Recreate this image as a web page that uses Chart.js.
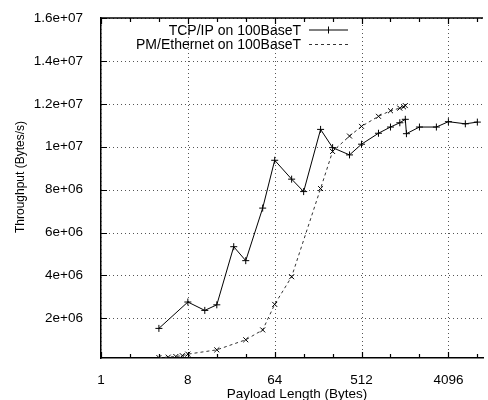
<!DOCTYPE html>
<html>
<head>
<meta charset="utf-8">
<script src="https://cdn.jsdelivr.net/npm/chart.js@4"></script>
<style>
  body { margin: 0; background: #fff; }
</style>
</head>
<body>
<canvas id="myChart" width="488" height="400"></canvas>
<script>
// payload sizes (bytes) and measured throughput (bytes/s)
const tcpSize = [4, 8, 12, 16, 24, 32, 48, 64, 96, 128, 192, 256, 384, 512, 768, 1024, 1280, 1460, 1500, 2048, 3072, 4096, 6144, 8192];
const tcpThroughput = [1.53e6, 2.76e6, 2.37e6, 2.63e6, 5.34e6, 4.69e6, 7.14e6, 9.37e6, 8.49e6, 7.91e6, 10.81e6, 9.96e6, 9.62e6, 10.12e6, 10.63e6, 10.92e6, 11.12e6, 11.28e6, 10.61e6, 10.92e6, 10.92e6, 11.17e6, 11.07e6, 11.15e6];

const pmSize = [4, 5, 6, 7, 8, 16, 32, 48, 64, 96, 192, 256, 384, 512, 768, 1024, 1280, 1400, 1460];
const pmThroughput = [1.7e5, 1.9e5, 2.2e5, 2.6e5, 3.3e5, 5.3e5, 1.0e6, 1.46e6, 2.65e6, 3.94e6, 8.05e6, 9.78e6, 10.5e6, 10.95e6, 11.42e6, 11.68e6, 11.8e6, 11.86e6, 11.92e6];

const seriesNames = ["TCP/IP on 100BaseT", "PM/Ethernet on 100BaseT"];

// ticks
const xTicks = [1, 2, 4, 8, 16, 32, 64, 128, 256, 512, 1024, 2048, 4096, 8192];
const xLabels = [1, 8, 64, 512, 4096];
const yTicks = [2e6, 4e6, 6e6, 8e6, 10e6, 12e6, 14e6, 16e6];

const FONT = "'Liberation Sans', Arial, sans-serif";
Chart.defaults.font.family = FONT;
Chart.defaults.color = "#000";

// gnuplot style: 2e+06, 1.6e+07
function gnuFmt(v) {
  const [m, e] = v.toExponential().split("e");
  return m + "e" + e[0] + e.slice(1).padStart(2, "0");
}

const toPoints = (xs, ys) => xs.map((x, i) => ({ x: x, y: ys[i] }));

// dotted grid, top border, inward ticks, legend and axis titles like gnuplot
const gnuplotFrame = {
  id: "gnuplotFrame",
  beforeDatasetsDraw(chart) {
    const c = chart.ctx;
    const a = chart.chartArea;
    const xs = chart.scales.x;
    const ys = chart.scales.y;
    c.save();
    c.strokeStyle = "#555";
    c.lineWidth = 1;
    c.setLineDash([1, 3]);
    c.beginPath();
    xLabels.forEach(t => {
      const px = Math.round(xs.getPixelForValue(t)) + 0.5;
      c.moveTo(px, a.bottom);
      c.lineTo(px, a.top);
    });
    yTicks.forEach(t => {
      const py = Math.round(ys.getPixelForValue(t)) + 0.5;
      c.moveTo(a.left, py);
      c.lineTo(a.right, py);
    });
    c.stroke();
    c.restore();
  },
  afterDraw(chart) {
    const c = chart.ctx;
    const a = chart.chartArea;
    const xs = chart.scales.x;
    const ys = chart.scales.y;
    c.save();
    c.strokeStyle = "#000";
    c.lineWidth = 1.5;
    c.beginPath();
    c.moveTo(a.left, a.top);
    c.lineTo(a.right, a.top);
    c.stroke();

    c.lineWidth = 1.2;
    c.beginPath();
    xTicks.forEach(t => {
      const px = Math.round(xs.getPixelForValue(t)) + 0.5;
      const len = xLabels.includes(t) ? 6 : 4;
      c.moveTo(px, a.bottom);
      c.lineTo(px, a.bottom - len);
      c.moveTo(px, a.top);
      c.lineTo(px, a.top + len);
    });
    yTicks.forEach(t => {
      const py = Math.round(ys.getPixelForValue(t)) + 0.5;
      c.moveTo(a.left, py);
      c.lineTo(a.left + 6, py);
    });
    c.stroke();

    // legend
    c.font = "14px " + FONT;
    c.fillStyle = "#000";
    c.textAlign = "right";
    c.textBaseline = "middle";
    const rows = [30, 44.5];
    chart.data.datasets.forEach((ds, i) => {
      const y = rows[i];
      c.fillText(seriesNames[i], 301, y + 1);
      c.strokeStyle = ds.borderColor;
      c.lineWidth = 1;
      c.setLineDash(ds.borderDash || []);
      c.beginPath();
      c.moveTo(309, y);
      c.lineTo(348, y);
      c.stroke();
      c.setLineDash([]);
      if (i === 0) {
        c.beginPath();
        c.moveTo(328.5, y - 3.5);
        c.lineTo(328.5, y + 3.5);
        c.stroke();
      }
    });

    // axis titles
    c.fillStyle = "#000";
    c.textAlign = "center";
    c.font = "13.5px " + FONT;
    c.textBaseline = "alphabetic";
    c.fillText("Payload Length (Bytes)", 297, 398);
    c.save();
    c.translate(21, 177);
    c.rotate(-Math.PI / 2);
    c.font = "12px " + FONT;
    c.textBaseline = "middle";
    c.fillText("Throughput (Bytes/s)", 0, 0);
    c.restore();
    c.restore();
  }
};

const ctx = document.getElementById("myChart").getContext("2d");

const chart = new Chart(ctx, {
  type: "line",
  data: {
    datasets: [
      {
        label: seriesNames[0],
        data: toPoints(tcpSize, tcpThroughput),
        borderColor: "#000",
        borderWidth: 1,
        pointStyle: "cross",
        pointRadius: 3.5,
        pointBorderColor: "#000",
        pointBorderWidth: 1,
        pointBackgroundColor: "#000",
        tension: 0
      },
      {
        label: seriesNames[1],
        data: toPoints(pmSize, pmThroughput),
        borderColor: "#333",
        borderWidth: 1,
        borderDash: [3, 3],
        pointStyle: "crossRot",
        pointRadius: 3.5,
        pointBorderColor: "#000",
        pointBorderWidth: 1,
        pointBackgroundColor: "#000",
        tension: 0
      }
    ]
  },
  options: {
    responsive: false,
    animation: false,
    devicePixelRatio: 1,
    layout: { padding: { top: 17, left: 0, right: 0, bottom: 0 } },
    plugins: {
      legend: { display: false },
      tooltip: { enabled: false }
    },
    scales: {
      x: {
        type: "logarithmic",
        min: 1,
        max: 9380,
        afterBuildTicks: s => { s.ticks = xTicks.map(v => ({ value: v })); },
        afterFit: s => { s.height = 42; },
        ticks: {
          autoSkip: false,
          maxRotation: 0,
          padding: 6,
          font: { size: 13.5 },
          callback: v => (xLabels.includes(v) ? String(v) : "")
        },
        grid: { display: false },
        border: { display: true, color: "#000", width: 1.5 }
      },
      y: {
        type: "linear",
        min: 150000,
        max: 16000000,
        afterBuildTicks: s => { s.ticks = yTicks.map(v => ({ value: v })); },
        afterFit: s => { s.width = 101; },
        ticks: {
          padding: 10,
          font: { size: 13.5 },
          callback: v => gnuFmt(v)
        },
        grid: { display: false },
        border: { display: true, color: "#000", width: 1.5 }
      }
    }
  },
  plugins: [gnuplotFrame]
});
</script>
</body>
</html>
